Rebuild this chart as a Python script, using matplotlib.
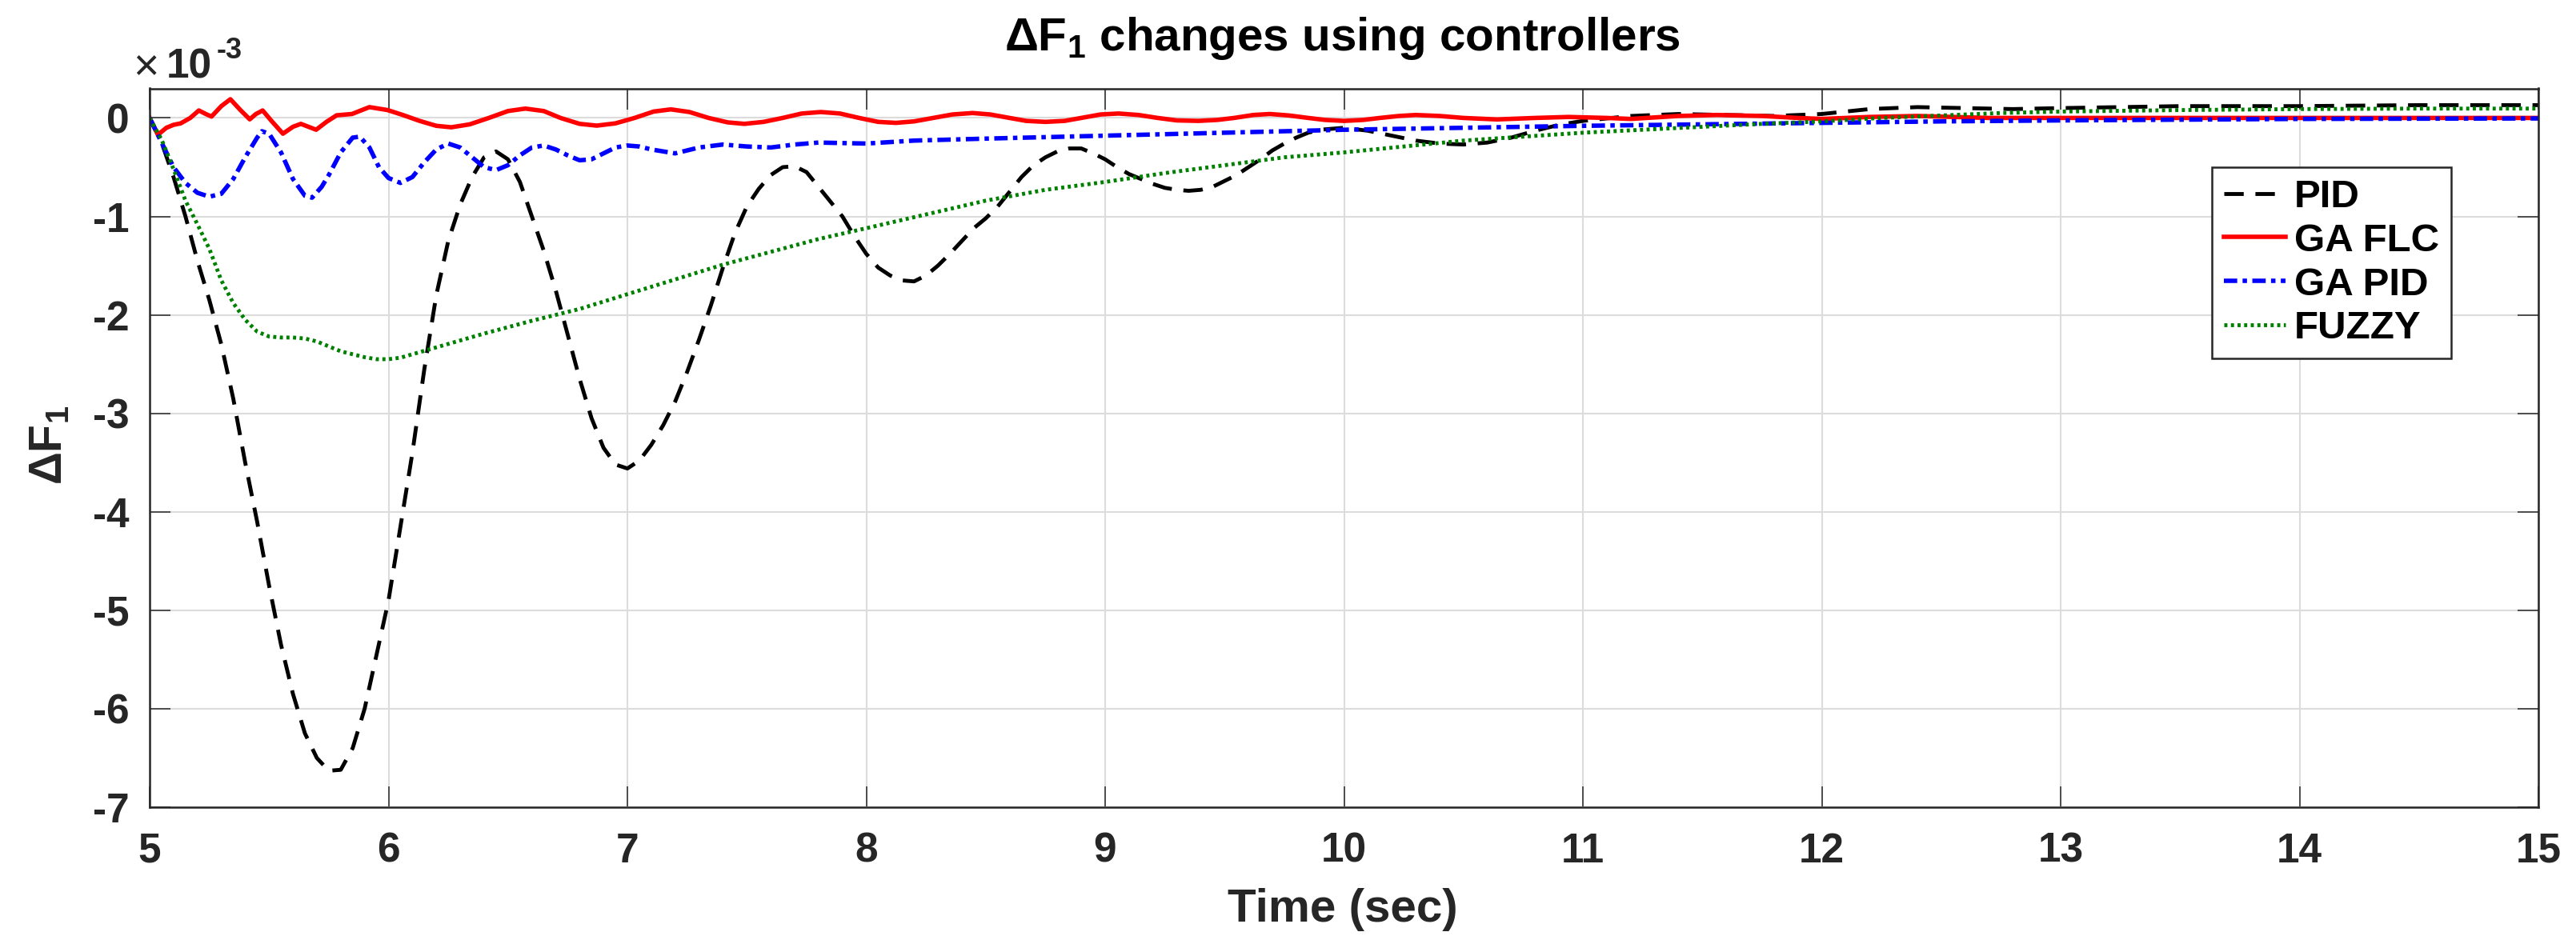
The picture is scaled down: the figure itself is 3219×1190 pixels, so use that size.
import matplotlib
matplotlib.use("Agg")
import matplotlib.pyplot as plt

# ---------------- data (values in units of 1e-3) ----------------
pid_t = [5.00, 5.05, 5.10, 5.15, 5.20, 5.25, 5.30, 5.35, 5.40, 5.45, 5.50, 5.55, 5.60, 5.65,
         5.70, 5.75, 5.80, 5.85, 5.90, 5.95, 6.00, 6.05, 6.10, 6.15, 6.20, 6.25, 6.30, 6.35,
         6.40, 6.45, 6.50, 6.55, 6.60, 6.65, 6.70, 6.75, 6.80, 6.85, 6.90, 6.95, 7.00, 7.05,
         7.10, 7.15, 7.20, 7.25, 7.30, 7.35, 7.40, 7.45, 7.50, 7.55, 7.60, 7.65, 7.70, 7.75,
         7.80, 7.85, 7.90, 7.95, 8.00, 8.05, 8.10, 8.15, 8.20, 8.25, 8.30, 8.35, 8.40, 8.45,
         8.50, 8.55, 8.60, 8.65, 8.70, 8.75, 8.80, 8.85, 8.90, 8.95, 9.00, 9.05, 9.10, 9.15,
         9.20, 9.25, 9.30, 9.35, 9.40, 9.45, 9.50, 9.55, 9.60, 9.65, 9.70, 9.75, 9.80, 9.85,
         9.90, 10.0, 10.1, 10.2, 10.3, 10.4, 10.5, 10.6, 10.7, 10.8, 10.9, 11.0, 11.2, 11.4,
         11.6, 11.8, 12.0, 12.2, 12.4, 12.6, 12.8, 13.0, 13.5, 14.0, 14.5, 15.0]
pid_v = [0.0, -0.25, -0.60, -1.00, -1.45, -1.85, -2.30, -2.85, -3.50, -4.10, -4.75, -5.35, -5.85, -6.25,
         -6.50, -6.63, -6.62, -6.40, -6.00, -5.45, -4.90, -4.15, -3.40, -2.55, -1.80, -1.25, -0.88, -0.60,
         -0.40, -0.34, -0.42, -0.65, -1.00, -1.35, -1.75, -2.20, -2.65, -3.05, -3.35, -3.52, -3.56, -3.48,
         -3.32, -3.12, -2.88, -2.58, -2.25, -1.90, -1.52, -1.17, -0.90, -0.72, -0.58, -0.50, -0.49, -0.55,
         -0.70, -0.85, -1.00, -1.20, -1.38, -1.52, -1.60, -1.65, -1.66, -1.60, -1.50, -1.38, -1.25, -1.12,
         -1.02, -0.90, -0.75, -0.60, -0.48, -0.40, -0.34, -0.31, -0.31, -0.36, -0.42, -0.50, -0.57, -0.62,
         -0.67, -0.71, -0.73, -0.74, -0.73, -0.70, -0.64, -0.58, -0.50, -0.42, -0.33, -0.26, -0.20, -0.15,
         -0.12, -0.10, -0.13, -0.18, -0.23, -0.26, -0.27, -0.25, -0.20, -0.13, -0.07, -0.03, 0.02, 0.04,
         0.03, 0.02, 0.04, 0.09, 0.11, 0.10, 0.09, 0.10, 0.12, 0.12, 0.13, 0.13]

flc_t = [5.00, 5.035, 5.07, 5.10, 5.13, 5.17, 5.206, 5.235, 5.259, 5.30, 5.338, 5.38, 5.419, 5.445,
         5.473, 5.51, 5.558, 5.60, 5.633, 5.665, 5.697, 5.74, 5.783, 5.847, 5.92, 5.996, 6.06, 6.13,
         6.20, 6.263, 6.34, 6.42, 6.50, 6.573, 6.65, 6.72, 6.80, 6.872, 6.95, 7.03, 7.11, 7.182,
         7.26, 7.34, 7.42, 7.49, 7.57, 7.65, 7.73, 7.81, 7.89, 7.97, 8.05, 8.125, 8.20, 8.28,
         8.36, 8.445, 8.52, 8.60, 8.67, 8.75, 8.83, 8.90, 8.98, 9.056, 9.14, 9.22, 9.30, 9.39,
         9.47, 9.54, 9.62, 9.69, 9.77, 9.85, 9.92, 10.0, 10.08, 10.15, 10.23, 10.30, 10.40, 10.50,
         10.64, 10.80, 10.94, 11.10, 11.20, 11.40, 11.56, 11.75, 11.90, 12.0, 12.2, 12.4, 12.7, 13.0, 15.0]
flc_v = [0.0, -0.17, -0.10, -0.07, -0.055, 0.0, 0.076, 0.04, 0.014, 0.12, 0.19, 0.08, -0.014, 0.04,
         0.076, -0.03, -0.16, -0.09, -0.06, -0.09, -0.12, -0.04, 0.027, 0.04, 0.11, 0.08, 0.03, -0.03,
         -0.08, -0.095, -0.065, 0.0, 0.07, 0.095, 0.07, 0.0, -0.06, -0.078, -0.055, 0.0, 0.065, 0.087,
         0.06, 0.0, -0.045, -0.06, -0.04, 0.0, 0.045, 0.06, 0.045, 0.0, -0.04, -0.05, -0.035, 0.0,
         0.035, 0.05, 0.035, 0.0, -0.03, -0.04, -0.03, 0.0, 0.035, 0.045, 0.03, 0.0, -0.025, -0.03,
         -0.02, 0.0, 0.03, 0.04, 0.025, 0.0, -0.02, -0.03, -0.02, 0.0, 0.02, 0.03, 0.02, 0.0,
         -0.015, 0.0, 0.01, 0.0, -0.01, 0.02, 0.03, 0.02, 0.0, -0.01, 0.01, 0.02, 0.0, 0.0, 0.0]

gapid_t = [5.00, 5.05, 5.10, 5.15, 5.20, 5.25, 5.30, 5.35, 5.40, 5.45, 5.47, 5.50, 5.55, 5.60,
           5.65, 5.68, 5.72, 5.75, 5.80, 5.85, 5.88, 5.92, 5.96, 6.00, 6.05, 6.10, 6.15, 6.20,
           6.25, 6.30, 6.35, 6.40, 6.45, 6.50, 6.55, 6.60, 6.65, 6.70, 6.75, 6.80, 6.85, 6.90,
           6.95, 7.00, 7.05, 7.10, 7.20, 7.30, 7.40, 7.50, 7.60, 7.70, 7.80, 8.00, 8.20, 8.50,
           9.00, 9.50, 10.0, 10.5, 11.0, 11.5, 12.0, 12.5, 13.0, 14.0, 15.0]
gapid_v = [0.0, -0.25, -0.50, -0.66, -0.76, -0.80, -0.77, -0.62, -0.40, -0.20, -0.135, -0.16, -0.35, -0.62,
           -0.79, -0.81, -0.70, -0.58, -0.35, -0.20, -0.19, -0.30, -0.50, -0.61, -0.66, -0.60, -0.45, -0.32,
           -0.26, -0.30, -0.40, -0.50, -0.53, -0.48, -0.38, -0.30, -0.28, -0.32, -0.38, -0.43, -0.42, -0.36,
           -0.30, -0.28, -0.29, -0.32, -0.36, -0.30, -0.27, -0.29, -0.30, -0.27, -0.25, -0.26, -0.23, -0.21,
           -0.18, -0.15, -0.12, -0.10, -0.08, -0.065, -0.05, -0.035, -0.025, -0.01, -0.005]

fuzzy_t = [5.00, 5.05, 5.10, 5.15, 5.20, 5.25, 5.30, 5.35, 5.40, 5.45, 5.50, 5.55, 5.60, 5.65,
           5.70, 5.75, 5.80, 5.85, 5.90, 5.95, 6.00, 6.05, 6.10, 6.20, 6.40, 6.60, 6.80, 7.00,
           7.20, 7.40, 7.60, 7.80, 8.00, 8.25, 8.50, 8.75, 9.00, 9.25, 9.50, 9.75, 10.0, 10.25,
           10.5, 10.75, 11.0, 11.25, 11.5, 11.75, 12.0, 12.25, 12.5, 12.75, 13.0, 13.5, 14.0, 14.5, 15.0]
fuzzy_v = [0.0, -0.22, -0.52, -0.84, -1.08, -1.33, -1.65, -1.88, -2.05, -2.17, -2.22, -2.23, -2.23, -2.24,
           -2.27, -2.32, -2.37, -2.40, -2.43, -2.45, -2.45, -2.435, -2.40, -2.33, -2.19, -2.06, -1.94, -1.79,
           -1.64, -1.49, -1.36, -1.23, -1.12, -0.98, -0.84, -0.73, -0.65, -0.56, -0.48, -0.40, -0.35, -0.29,
           -0.23, -0.19, -0.15, -0.12, -0.09, -0.06, -0.035, 0.0, 0.025, 0.05, 0.065, 0.08, 0.09, 0.095, 0.095]

labels = ["PID", "GA FLC", "GA PID", "FUZZY"]
x_ticks = [5, 6, 7, 8, 9, 10, 11, 12, 13, 14, 15]
y_ticks = [0, -1, -2, -3, -4, -5, -6, -7]

# ---------------- fonts ----------------
font = "Liberation Sans"
plt.rcParams["font.family"] = [font, "DejaVu Sans"]
plt.rcParams["axes.unicode_minus"] = False
plt.rcParams["mathtext.fontset"] = "custom"
plt.rcParams["mathtext.rm"] = font
plt.rcParams["mathtext.bf"] = font + ":bold"
plt.rcParams["mathtext.it"] = font + ":italic"

TXT = "#262626"
W, H = 3219, 1190
fig = plt.figure(figsize=(W / 100, H / 100), dpi=100)
L, R, T, B = 187, 3172, 110.5, 1009
ax = fig.add_axes([L / W, 1 - B / H, (R - L) / W, (B - T) / H])

ax.plot(pid_t, pid_v, color="black", lw=3.5, linestyle=(0, (5, 3)), label=labels[0])
ax.plot(flc_t, flc_v, color="#ff0000", lw=4.0, linestyle="-", label=labels[1])
ax.plot(gapid_t, gapid_v, color="#0000ff", lw=4.0, linestyle=(0, (3, 1.2, 1, 1.2)), label=labels[2])
ax.plot(fuzzy_t, fuzzy_v, color="#008000", lw=3.5, linestyle=(0, (0.8, 0.9)), label=labels[3])

ax.set_xlim(5, 15)
ax.set_ylim(-7, 0.3)
ax.set_xticks(x_ticks)
ax.set_yticks(y_ticks)
ax.set_xticklabels([str(v) for v in x_ticks])
ax.set_yticklabels([str(v) for v in y_ticks])
ax.grid(True, color="#dcdcdc", lw=1.5)
ax.set_axisbelow(True)
ax.tick_params(direction="in", length=19, width=1.1, color=TXT,
               top=True, right=True, labelsize=37, labelcolor=TXT)
ax.tick_params(axis="x", pad=22)
ax.tick_params(axis="y", pad=18)
for lab in ax.get_xticklabels() + ax.get_yticklabels():
    lab.set_fontweight("bold")
for sp in ax.spines.values():
    sp.set_color(TXT)
    sp.set_linewidth(1.8)

# title, axis labels, exponent
fig.text(1677 / W, 1 - 63 / H, r"ΔF$_{\mathbf{1}}$ changes using controllers",
         ha="center", va="baseline", fontsize=42, fontweight="bold")
fig.text(1678 / W, 1 - 1152 / H, "Time (sec)", ha="center", va="baseline",
         fontsize=42, fontweight="bold", color=TXT)
fig.text(62 / W, 1 - 556 / H, r"ΔF$_{\mathbf{1}}$", ha="center", va="center",
         rotation=90, fontsize=41, fontweight="bold", color=TXT)
fig.text(166 / W, 1 - 85 / H, "×", ha="left", va="center", fontsize=40, color=TXT)
fig.text(208 / W, 1 - 98 / H, "10", ha="left", va="baseline", fontsize=37,
         fontweight="bold", color=TXT)
fig.text(271 / W, 1 - 73 / H, "-3", ha="left", va="baseline", fontsize=26,
         fontweight="bold", color=TXT)

leg = ax.legend(loc="upper right", bbox_to_anchor=((3063 - L) / (R - L), (B - 209) / (B - T)),
                borderaxespad=0, prop={"weight": "bold", "size": 35.5},
                handlelength=1.57, handletextpad=0.22, labelspacing=0.2,
                borderpad=0.3, fancybox=False, framealpha=1)
leg.get_frame().set_edgecolor(TXT)
leg.get_frame().set_linewidth(1.8)

fig.savefig("out.png", dpi=100, facecolor="white")
